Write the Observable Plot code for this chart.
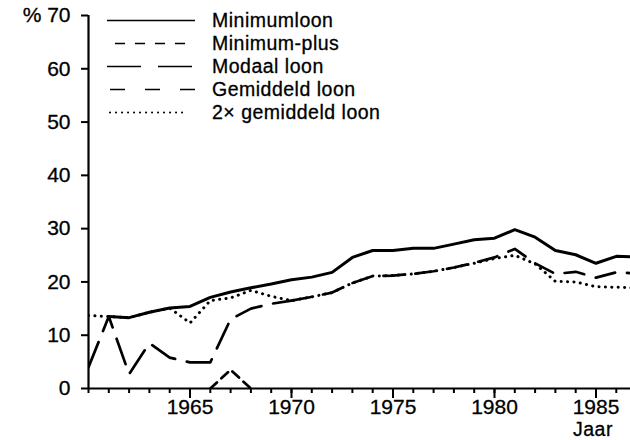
<!DOCTYPE html>
<html>
<head>
<meta charset="utf-8">
<script src="https://cdn.jsdelivr.net/npm/d3@7"></script>
<script src="https://cdn.jsdelivr.net/npm/@observablehq/plot@0.6"></script>
<style>
  html, body { margin: 0; padding: 0; background: #fff; }
  #wrap { position: relative; width: 630px; height: 440px; overflow: hidden; font-family: "Liberation Sans", Arial, Helvetica, sans-serif; color: #000; }
  #wrap svg text { stroke: black; stroke-width: 0.3px; }
  #legend { position: absolute; left: 107px; top: 9px; }
  .row { display: flex; align-items: center; height: 23px; }
  .row svg { width: 88px; height: 23px; display: block; }
  .row span { margin-left: 17px; font-size: 19.5px; letter-spacing: 0.5px; line-height: 1; -webkit-text-stroke: 0.3px black; }
  #jaar { position: absolute; left: 573px; top: 422px; font-size: 19.5px; letter-spacing: 0.5px; line-height: 0.8; -webkit-text-stroke: 0.3px black; }
</style>
</head>
<body>
<div id="wrap"></div>
<script>
// ---- data (percent, per year) ----
const yearsMin = [1961,1962,1963,1964,1965,1966,1967,1968,1969,1970,1971,1972,1973,1974,1975,1976,1977,1978,1979,1980,1981,1982,1983,1984,1985,1986,1987];
const minimumloon = [13.5,13.3,14.3,15.1,15.4,17.1,18.1,18.9,19.6,20.4,20.9,21.8,24.6,25.9,25.9,26.3,26.3,27.1,27.9,28.2,29.8,28.4,25.9,25.1,23.5,24.8,24.7];

const yearsPlus = [1966,1967,1968];
const minimumPlus = [0,3.5,0];

const yearsModaal = [1960,1961,1962,1963,1964,1965,1966,1967,1968,1969,1970];
const modaal = [4.0,13.5,2.7,8.5,5.8,4.9,4.9,13.0,15.0,15.9,16.5];

const yearsGem = [1970,1971,1972,1973,1974,1975,1976,1977,1978,1979,1980,1981,1982,1983,1984,1985,1986,1987];
const gemiddeld = [16.5,17.2,18.0,19.8,21.1,21.2,21.5,22.0,22.7,23.6,24.6,26.2,23.5,21.5,21.9,20.8,21.8,21.6];

const years2x = [1960,1961,1962,1963,1964,1965,1966,1967,1968,1969,1970,1971,1972,1973,1974,1975,1976,1977,1978,1979,1980,1981,1982,1983,1984,1985,1986,1987];
const dubbel = [13.7,13.5,13.3,14.3,15.1,12.3,16.5,17.0,18.4,17.3,16.5,17.2,18.0,19.8,21.1,21.2,21.5,22.0,22.7,23.5,24.4,25.0,23.4,20.1,20.0,19.1,19.0,18.9];

const yTicks = [0,10,20,30,40,50,60,70];
const xMinor = d3.range(1960, 1987);
const xMajor = [1965,1970,1975,1980,1985];

const series = [
  {name: "Minimumloon", dash: null},
  {name: "Minimum-plus", dash: "10,10"},
  {name: "Modaal loon", dash: "34,17"},
  {name: "Gemiddeld loon", dash: "15,20"},
  {name: "2\u00d7  gemiddeld loon", dash: "0.1,5.9", dot: true}
];

const toRows = (xs, ys) => xs.map((x, i) => ({x, y: ys[i]}));

const lineOpts = {x: "x", y: "y", stroke: "black", strokeWidth: 2.7, clip: true, strokeLinejoin: "round"};

const chart = Plot.plot({
  width: 630,
  height: 440,
  marginLeft: 88,
  marginRight: 0,
  marginTop: 15,
  marginBottom: 52,
  style: {fontFamily: '"Liberation Sans", Arial, Helvetica, sans-serif', fontSize: "21px", background: "white", color: "black"},
  x: {domain: [1960, 1986.7]},
  y: {domain: [0, 70]},
  marks: [
    Plot.axisY(yTicks, {tickSize: 7, tickPadding: 11, strokeWidth: 2, fontSize: 21,
      tickFormat: d => d === 70 ? "% 70" : String(d), label: null}),
    Plot.axisX(xMinor, {tickSize: 5, strokeWidth: 2, tickFormat: () => "", label: null}),
    Plot.axisX(xMajor, {tickSize: 10, tickPadding: 1, strokeWidth: 2, fontSize: 21, tickFormat: d => String(d), label: null}),
    Plot.line(toRows(years2x, dubbel), {...lineOpts, strokeWidth: 3, strokeDasharray: "0.1,6.3", strokeLinecap: "round"}),
    Plot.line(toRows(yearsGem, gemiddeld), {...lineOpts, strokeDasharray: "20,12"}),
    Plot.line(toRows(yearsModaal, modaal), {...lineOpts, strokeDasharray: "27,12"}),
    Plot.line(toRows(yearsPlus, minimumPlus), {...lineOpts, strokeDasharray: "9,6"}),
    Plot.line(toRows(yearsMin, minimumloon), {...lineOpts, strokeWidth: 3}),
    Plot.ruleY([0], {strokeWidth: 2}),
    Plot.ruleX([1960], {strokeWidth: 2.2})
  ]
});

const wrap = document.getElementById("wrap");
wrap.appendChild(chart);

// legend overlay
const legend = document.createElement("div");
legend.id = "legend";
const sampleX = [
  [0, 88], [8, 80], [0, 88], [3, 88], [3, 80]
];
series.forEach((s, i) => {
  const row = document.createElement("div");
  row.className = "row";
  const ns = "http://www.w3.org/2000/svg";
  const svg = document.createElementNS(ns, "svg");
  const ln = document.createElementNS(ns, "line");
  ln.setAttribute("x1", sampleX[i][0]);
  ln.setAttribute("x2", sampleX[i][1]);
  ln.setAttribute("y1", 11.5);
  ln.setAttribute("y2", 11.5);
  ln.setAttribute("stroke", "black");
  ln.setAttribute("stroke-width", s.dot ? 2 : 1.6);
  if (s.dash) ln.setAttribute("stroke-dasharray", s.dash);
  if (s.dot) ln.setAttribute("stroke-linecap", "round");
  svg.appendChild(ln);
  row.appendChild(svg);
  const t = document.createElement("span");
  t.textContent = s.name;
  row.appendChild(t);
  legend.appendChild(row);
});
wrap.appendChild(legend);

const jaar = document.createElement("div");
jaar.id = "jaar";
jaar.textContent = "Jaar";
wrap.appendChild(jaar);
</script>
</body>
</html>
